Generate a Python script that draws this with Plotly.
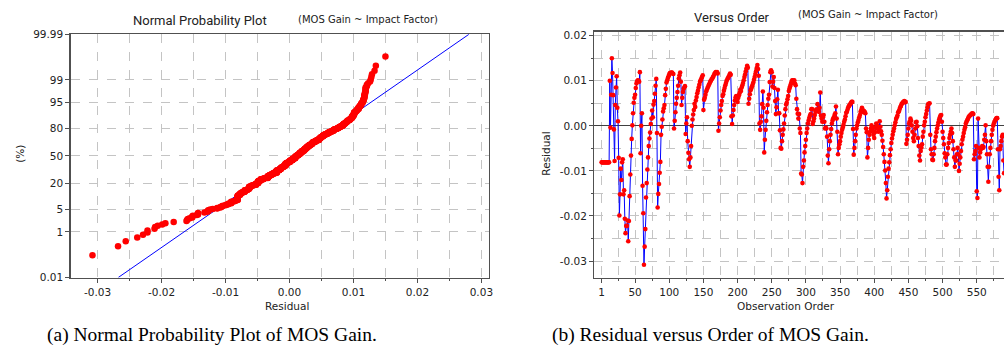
import plotly.graph_objects as go
from statistics import NormalDist
import numpy as np

W, H = 1008, 355

# Residuals in observation order
res_001_060 = [-0.0081, -0.0081, -0.0081, -0.0081, -0.0081, -0.0081, -0.0081, -0.0081, -0.0081, -0.0081,
               -0.0081, -0.0081, 0.0100, -0.0004, 0.0069, 0.0150, 0.0117, 0.0068, -0.0008, -0.0078,
               0.0046, 0.0085, 0.0110, 0.0040, 0.0010, -0.0071, -0.0199, -0.0152, -0.0095, -0.0120,
               -0.0081, -0.0074, -0.0152, -0.0143, -0.0206, -0.0238, -0.0222, -0.0222, -0.0210, -0.0256,
               -0.0211, -0.0156, -0.0108, -0.0066, -0.0029, 0.0001, 0.0028, 0.0051, 0.0062, 0.0069,
               0.0084, 0.0094, 0.0099, 0.0101, 0.0100, 0.0098, 0.0119, -0.0061, 0.0000, 0.0028]
res_061_120 = [-0.0133, -0.0194, -0.0308, -0.0268, -0.0229, -0.0159, -0.0127, -0.0097, -0.0070, -0.0045,
               -0.0028, -0.0015, 0.0004, 0.0016, 0.0034, 0.0019, 0.0047, 0.0055, 0.0071, 0.0089,
               0.0104, -0.0016, -0.0181, -0.0151, -0.0129, -0.0104, -0.0080, -0.0020, -0.0002, 0.0014,
               0.0032, 0.0039, 0.0046, 0.0068, 0.0082, 0.0096, 0.0101, 0.0106, 0.0110, 0.0114,
               0.0117, 0.0117, 0.0118, 0.0118, 0.0116, 0.0115, -0.0006, 0.0011, 0.0030, 0.0049,
               0.0062, 0.0075, 0.0089, 0.0105, 0.0112, 0.0118, 0.0098, 0.0046, 0.0062, 0.0075]
res_121_180 = [0.0082, 0.0085, 0.0088, -0.0018, 0.0005, 0.0019, -0.0034, -0.0060, -0.0074, -0.0091,
               -0.0070, -0.0045, 0.0000, 0.0014, 0.0025, 0.0035, 0.0049, 0.0042, 0.0056, 0.0064,
               0.0072, 0.0078, 0.0085, 0.0091, 0.0098, 0.0101, 0.0105, 0.0108, 0.0112, 0.0035,
               0.0058, 0.0062, 0.0069, 0.0076, 0.0080, 0.0084, 0.0087, 0.0091, 0.0094, 0.0098,
               0.0100, 0.0103, 0.0105, 0.0108, 0.0111, 0.0115, 0.0117, 0.0119, 0.0117, 0.0119,
               0.0116, -0.0011, 0.0005, 0.0019, 0.0034, 0.0046, 0.0055, 0.0066, 0.0070, 0.0078]
res_181_240 = [0.0084, 0.0090, 0.0095, 0.0100, 0.0103, 0.0106, 0.0109, 0.0112, 0.0116, 0.0113,
               0.0021, 0.0004, 0.0023, 0.0035, 0.0046, 0.0056, 0.0063, 0.0066, 0.0059, 0.0053,
               0.0062, 0.0068, 0.0073, 0.0080, 0.0077, 0.0085, 0.0090, 0.0095, 0.0101, 0.0108,
               0.0114, 0.0121, 0.0127, 0.0133, 0.0129, 0.0049, 0.0060, 0.0070, 0.0079, 0.0083,
               0.0087, 0.0091, 0.0096, 0.0102, 0.0108, 0.0115, 0.0121, 0.0128, 0.0135, 0.0126,
               0.0111, 0.0005, -0.0009, 0.0009, 0.0021, 0.0048, 0.0076, 0.0040, -0.0059, -0.0031]
res_241_300 = [-0.0009, 0.0011, 0.0030, 0.0046, 0.0060, 0.0069, 0.0097, 0.0119, 0.0123, 0.0119,
               0.0087, 0.0098, 0.0108, 0.0084, 0.0055, 0.0026, 0.0041, 0.0059, 0.0080, 0.0028,
               0.0028, -0.0010, -0.0049, -0.0051, -0.0034, -0.0020, -0.0008, 0.0005, 0.0023, 0.0037,
               0.0047, 0.0051, 0.0059, 0.0066, 0.0077, 0.0083, 0.0088, 0.0093, 0.0098, 0.0101,
               0.0101, 0.0096, 0.0101, 0.0094, 0.0090, 0.0060, 0.0037, 0.0027, 0.0016, 0.0026,
               -0.0006, -0.0016, -0.0106, -0.0108, -0.0127, -0.0091, -0.0077, -0.0059, -0.0045, -0.0031]
res_301_360 = [-0.0016, -0.0006, 0.0005, 0.0012, 0.0018, 0.0023, 0.0026, 0.0037, 0.0037, 0.0004,
               0.0010, 0.0016, 0.0024, 0.0031, 0.0036, 0.0036, 0.0048, 0.0035, 0.0031, 0.0040,
               0.0074, 0.0023, 0.0016, 0.0009, 0.0019, 0.0024, 0.0009, -0.0006, -0.0004, -0.0006,
               -0.0024, -0.0066, -0.0083, -0.0052, -0.0034, -0.0020, -0.0007, 0.0005, 0.0012, 0.0016,
               0.0019, 0.0024, 0.0028, 0.0043, 0.0016, -0.0013, -0.0063, -0.0049, -0.0041, -0.0034,
               -0.0024, -0.0016, -0.0009, -0.0004, 0.0002, 0.0009, 0.0014, 0.0021, 0.0029, 0.0031]
res_361_420 = [0.0036, 0.0041, 0.0044, 0.0046, 0.0048, 0.0051, 0.0053, 0.0053, -0.0007, -0.0064,
               -0.0049, -0.0034, -0.0020, -0.0006, 0.0001, 0.0008, 0.0013, 0.0019, 0.0024, 0.0031,
               0.0035, 0.0040, 0.0036, 0.0030, 0.0033, 0.0031, 0.0028, -0.0006, -0.0014, -0.0070,
               -0.0049, -0.0031, -0.0020, -0.0013, -0.0006, 0.0001, -0.0004, -0.0011, -0.0020, -0.0027,
               -0.0014, -0.0004, 0.0005, 0.0001, -0.0006, -0.0013, -0.0012, 0.0010, -0.0002, -0.0012,
               -0.0020, -0.0033, -0.0047, -0.0063, -0.0080, -0.0099, -0.0127, -0.0161, -0.0143, -0.0113]
res_421_480 = [-0.0095, -0.0081, -0.0065, -0.0052, -0.0038, -0.0028, -0.0020, -0.0012, -0.0006, 0.0001,
               0.0008, 0.0015, 0.0019, 0.0023, 0.0030, 0.0032, 0.0036, 0.0041, 0.0044, 0.0048,
               0.0050, 0.0052, 0.0053, 0.0055, 0.0052, 0.0053, -0.0040, -0.0031, -0.0020, -0.0006,
               0.0005, 0.0010, 0.0016, 0.0011, 0.0001, -0.0013, -0.0027, -0.0034, -0.0020, -0.0006,
               0.0008, 0.0009, -0.0001, -0.0027, -0.0045, -0.0066, -0.0077, -0.0056, -0.0048, -0.0041,
               -0.0024, -0.0013, 0.0001, 0.0009, 0.0019, 0.0026, 0.0034, 0.0041, 0.0048, 0.0049]
res_481_540 = [0.0050, -0.0020, -0.0052, -0.0063, -0.0075, -0.0076, -0.0063, -0.0049, -0.0034, -0.0024,
               -0.0014, -0.0006, 0.0001, 0.0008, 0.0014, 0.0019, 0.0023, 0.0024, 0.0009, -0.0013,
               -0.0027, -0.0041, -0.0061, -0.0070, -0.0086, -0.0086, -0.0063, -0.0049, -0.0038, -0.0027,
               -0.0020, -0.0013, -0.0006, -0.0016, -0.0034, -0.0052, -0.0070, -0.0091, -0.0077, -0.0077,
               -0.0063, -0.0049, -0.0063, -0.0100, -0.0084, -0.0070, -0.0056, -0.0041, -0.0031, -0.0024,
               -0.0016, -0.0009, -0.0003, 0.0005, 0.0009, 0.0012, 0.0015, 0.0019, 0.0021, 0.0023]
res_541_590 = [0.0024, 0.0026, 0.0027, 0.0028, 0.0026, -0.0074, -0.0063, -0.0056, -0.0045, -0.0145,
               -0.0160, 0.0016, -0.0049, -0.0070, -0.0059, -0.0052, -0.0049, -0.0045, -0.0049, -0.0047,
               -0.0031, -0.0020, 0.0001, -0.0034, -0.0063, -0.0091, -0.0124, -0.0091, -0.0063, -0.0049,
               -0.0034, -0.0020, -0.0009, 0.0000, 0.0005, 0.0009, 0.0012, 0.0015, 0.0017, 0.0017,
               -0.0052, -0.0113, -0.0143, -0.0052, -0.0045, -0.0034, -0.0024, -0.0020, -0.0077, -0.0105]

residuals = (res_001_060 + res_061_120 + res_121_180 + res_181_240 + res_241_300 +
             res_301_360 + res_361_420 + res_421_480 + res_481_540 + res_541_590)
order = list(range(1, len(residuals) + 1))

pct_ticks = [0.01, 1, 5, 20, 50, 80, 95, 99, 99.99]
pct_labels = ["0.01", "1", "5", "20", "50", "80", "95", "99", "99.99"]
resid_ticks = [-0.03, -0.02, -0.01, 0.00, 0.01, 0.02, 0.03]
resid_labels = ["-0.03", "-0.02", "-0.01", "0.00", "0.01", "0.02", "0.03"]
order_ticks = [1, 50, 100, 150, 200, 250, 300, 350, 400, 450, 500, 550]
vres_ticks = [-0.03, -0.02, -0.01, 0.00, 0.01, 0.02]
vres_labels = ["-0.03", "-0.02", "-0.01", "0.00", "0.01", "0.02"]

# ---- normal probability plot positions ----
nd = NormalDist()
n = len(residuals)
sorted_res = sorted(residuals)
zscores = [nd.inv_cdf((i - 0.3) / (n + 0.4)) for i in range(1, n + 1)]
zlim = nd.inv_cdf(0.9999)
mu = float(np.mean(residuals))
sd = float(np.std(residuals, ddof=1))
fit_x = [mu - zlim * sd, mu + zlim * sd]
fit_y = [-zlim, zlim]


def px(x):
    return x / W


def py(y):
    return 1 - y / H


GRID = "#c4c4c4"
AXC = "#505050"
TFONT = dict(family="DejaVu Sans", size=10.5, color="#222222")

fig = go.Figure()
fig.add_trace(go.Scatter(x=fit_x, y=fit_y, mode="lines", line=dict(color="#0000ff", width=1),
                         xaxis="x", yaxis="y", hoverinfo="skip"))
fig.add_trace(go.Scatter(x=sorted_res, y=zscores, mode="markers",
                         marker=dict(color="#ff0000", size=6.5, line=dict(width=0)),
                         xaxis="x", yaxis="y"))
fig.add_trace(go.Scatter(x=order, y=residuals, mode="lines+markers",
                         line=dict(color="#0000ff", width=1),
                         marker=dict(color="#ff0000", size=4.6, line=dict(width=0)),
                         xaxis="x2", yaxis="y2"))

common = dict(showline=True, linecolor=AXC, linewidth=1.4, ticks="outside", ticklen=4,
              tickcolor=AXC, showgrid=True, gridcolor=GRID, griddash="dash", gridwidth=1,
              zeroline=False, tickfont=TFONT)

fig.update_layout(
    width=W, height=H, autosize=False,
    margin=dict(l=0, r=0, t=0, b=0),
    paper_bgcolor="white", plot_bgcolor="white",
    showlegend=False,
    xaxis=dict(domain=[px(71), px(491)], range=[-0.0342, 0.0312], anchor="y",
               tickvals=resid_ticks, ticktext=resid_labels, mirror=True,
               minor=dict(tickvals=[-0.025, -0.015, -0.005, 0.005, 0.015, 0.025], showgrid=True,
                          gridcolor=GRID, griddash="dash", ticks="outside", ticklen=2,
                          tickcolor=AXC),
               **common),
    yaxis=dict(domain=[py(281), py(29.3)], range=[-zlim - 1e-6, zlim + 1e-6], anchor="x",
               tickvals=[nd.inv_cdf(p / 100) for p in pct_ticks], ticktext=pct_labels,
               mirror=True, **common),
    xaxis2=dict(domain=[px(596.7), 1.0], range=[-9.64, 589.9], anchor="y2",
                tickvals=order_ticks, ticktext=[str(t) for t in order_ticks], mirror=True,
                minor=dict(tickvals=list(range(25, 600, 50)), showgrid=True, gridcolor=GRID,
                           griddash="dash", ticks="outside", ticklen=2, tickcolor=AXC),
                **common),
    yaxis2=dict(domain=[py(281), py(26.7)], range=[-0.03364, 0.02085], anchor="x2",
                tickvals=vres_ticks, ticktext=vres_labels, mirror=False,
                minor=dict(tickvals=[-0.025, -0.015, -0.005, 0.005, 0.015], showgrid=True,
                           gridcolor=GRID, griddash="dash", ticks="outside", ticklen=2,
                           tickcolor=AXC),
                **common),
)
fig.update_yaxes(selector=dict(anchor="x2"), zeroline=True, zerolinecolor="#404040",
                 zerolinewidth=1)

ann = []


def add_text(text, x, y, size, family="DejaVu Sans", color="#222222", angle=0):
    ann.append(dict(text=text, x=px(x), y=py(y), xref="paper", yref="paper",
                    xanchor="center", yanchor="middle", showarrow=False, textangle=angle,
                    font=dict(family=family, size=size, color=color)))


add_text("Normal Probability Plot", 201, 14.7, 13, family="Roboto")
add_text("(MOS Gain ~ Impact Factor)", 369, 14, 10)
add_text("Versus Order", 735, 11.7, 13, family="Roboto")
add_text("(MOS Gain ~ Impact Factor)", 871, 9.3, 10)
add_text("Residual", 288, 311, 10.5)
add_text("(%)", 20, 153, 10.5, angle=-90)
add_text("Residual", 548, 153, 10.5, angle=-90)
add_text("Observation Order", 789, 311, 10.5)
add_text("(a) Normal Probability Plot of MOS Gain.", 212.5, 341, 19.5,
         family="Liberation Serif", color="#000000")
add_text("(b) Residual versus Order of MOS Gain.", 713.5, 341, 19.5,
         family="Liberation Serif", color="#000000")
fig.update_layout(annotations=ann)

fig.write_html("out.html", post_script="document.body.style.margin='0px';",
               config={"displayModeBar": False, "staticPlot": True})
